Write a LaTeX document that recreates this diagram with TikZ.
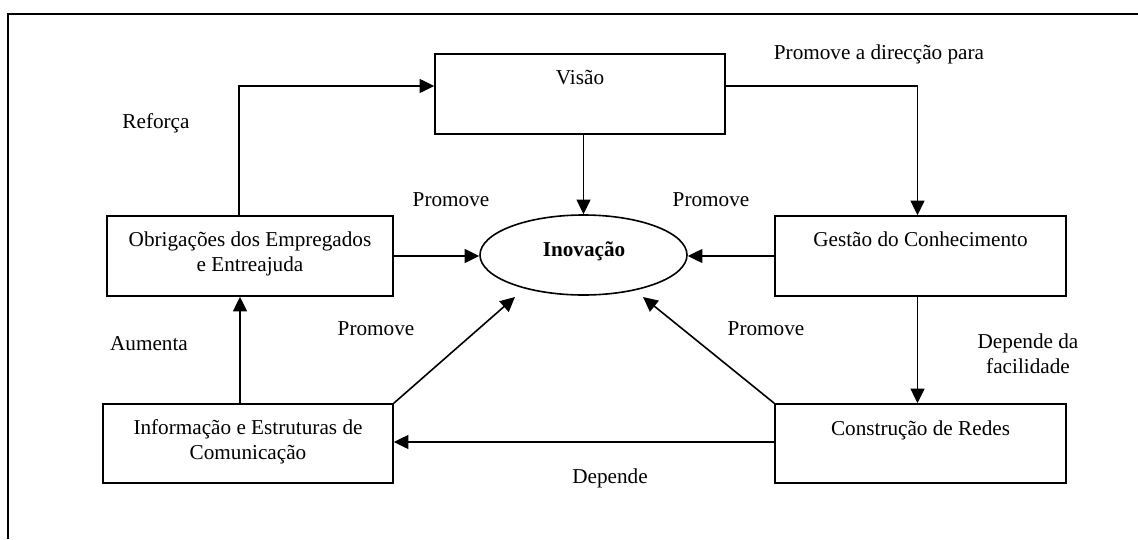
\documentclass[tikz,border=0pt]{standalone}
\usepackage{fontspec}
\setmainfont{Liberation Serif}
\usetikzlibrary{arrows.meta,shapes.geometric,calc}
\begin{document}
\begin{tikzpicture}[x=0.75pt,y=-0.75pt,
  every node/.style={font=\fontsize{15.9}{18.75}\selectfont},
  box/.style={draw, line width=1.2pt, inner sep=0pt, minimum height=60pt},
  boxtext/.style={anchor=base, align=center, inner sep=0pt},
  lbl/.style={anchor=base, inner sep=0pt},
  conn/.style={line width=1.2pt, -{Triangle[length=11pt,width=10.5pt]}},
  frameline/.style={line width=1.6pt}
]
\useasboundingbox (0,0) rectangle (1138,539);
% open frame around the figure
\draw[frameline] (8,539) -- (8,14) -- (1138,14);

% boxes
\node[box, minimum width=217.5pt] (vis) at (580,94) {};
\node[box, minimum width=214.5pt] (obr) at (250,256) {};
\node[box, minimum width=218.25pt] (ges) at (920.5,256) {};
\node[box, minimum width=217.5pt, minimum height=59.25pt] (inf) at (248,443.5) {};
\node[box, minimum width=218.25pt, minimum height=59.25pt] (con) at (920.5,443.5) {};
\node[draw, ellipse, line width=1.2pt, inner sep=0pt,
      minimum width=155.25pt, minimum height=60pt] (ino) at (583.5,255) {};

% box texts (base anchor sits on the last line)
\node[boxtext] (visT) at ($(vis.north)+(0,31)$) {Visão};
\node[boxtext] (obrT) at ($(obr.north)+(0,56)$) {Obrigações dos Empregados\\e Entreajuda};
\node[boxtext] (gesT) at ($(ges.north)+(0,31)$) {Gestão do Conhecimento};
\node[boxtext] (infT) at ($(inf.north)+(0,56)$) {Informação e Estruturas de\\Comunicação};
\node[boxtext] (conT) at ($(con.north)+(0,32)$) {Construção de Redes};
\node[lbl] (inoT) at (584,256) {\bfseries Inovação};

% free ends of the diagonal arrows
\coordinate (tipL) at (515,297);
\coordinate (tipR) at (643,297);

% connectors
\draw[conn] (vis.south -| ino.north) -- (ino.north);
\draw[conn] (obr.east) -- (obr.east -| ino.west);
\draw[conn] (ges.west) -- (ges.west -| ino.east);
\draw[conn] ($(obr.north)+(-11,0)$) |- ($(vis.west)+(0,-8)$);
\draw[conn] ($(vis.east)+(0,-8)$) -| ($(ges.north)+(-3,0)$);
\draw[conn] ($(ges.south)+(-3,0)$) -- ($(con.north)+(-3,0)$);
\draw[conn] ($(con.west)+(0,-1.5)$) -- ($(con.west -| inf.east)+(0,-1.5)$);
\draw[conn] ($(inf.north)+(-8,0)$) -- ($(obr.south)+(-10,0)$);
\draw[conn] (inf.north east) -- (tipL);
\draw[conn] (con.north west) -- (tipR);

% connector labels
\node[lbl] (lDir) at (879,59) {Promove a direcção para};
\node[lbl] (lRef) at (156,128) {Reforça};
\node[lbl] (lP1) at (451,206) {Promove};
\node[lbl] (lP2) at (711,206) {Promove};
\node[lbl] (lP3) at (376,335) {Promove};
\node[lbl] (lP4) at (766,335) {Promove};
\node[lbl] (lAum) at (149,350) {Aumenta};
\node[lbl, align=center] (lFac) at (1028,373) {Depende da\\facilidade};
\node[lbl] (lDep) at (610,483) {Depende};
\end{tikzpicture}
\end{document}
